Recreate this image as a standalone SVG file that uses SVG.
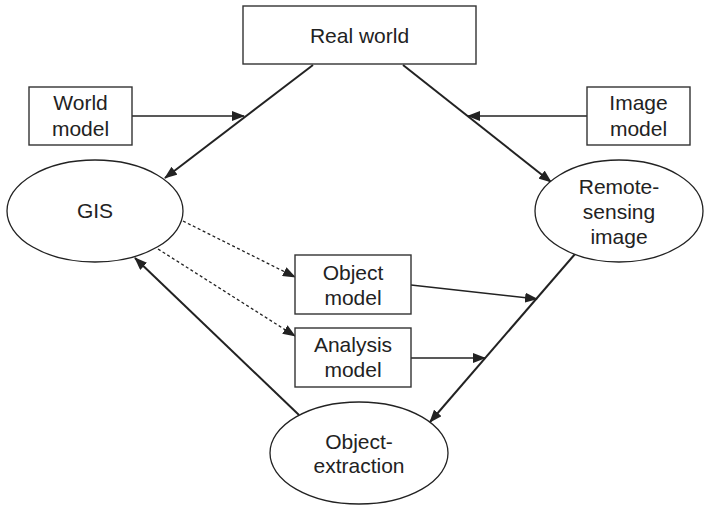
<svg xmlns="http://www.w3.org/2000/svg" width="705" height="506" viewBox="0 0 705 506">
<defs>
<style>
.box{fill:#fff;stroke:#333;stroke-width:1.4}
.ell{fill:#fff;stroke:#222;stroke-width:1.3}
.t{font-family:"Liberation Sans",Arial,sans-serif;font-size:21px;fill:#222;text-anchor:middle}
.main{stroke:#222;stroke-width:2;fill:none}
.thin{stroke:#222;stroke-width:1.4;fill:none}
.dot{stroke:#222;stroke-width:1.3;fill:none;stroke-dasharray:3 2.5}
</style>
<marker id="ah" viewBox="0 0 13 10" refX="12" refY="5" markerWidth="13" markerHeight="10" markerUnits="userSpaceOnUse" orient="auto">
<path d="M0,0 L13,5 L0,10 Z" fill="#222"/>
</marker>
</defs>
<rect width="705" height="506" fill="#fff"/>
<g id="connectors">
<line class="main" x1="313" y1="65" x2="165" y2="178" marker-end="url(#ah)"/>
<line class="main" x1="403" y1="65" x2="551" y2="182" marker-end="url(#ah)"/>
<line class="thin" x1="132" y1="116" x2="244" y2="116" marker-end="url(#ah)"/>
<line class="thin" x1="587" y1="116" x2="468" y2="116" marker-end="url(#ah)"/>
<line class="main" x1="575" y1="254" x2="430" y2="422" marker-end="url(#ah)"/>
<line class="thin" x1="411" y1="285" x2="537" y2="299" marker-end="url(#ah)"/>
<line class="thin" x1="411" y1="358" x2="485" y2="358" marker-end="url(#ah)"/>
<line class="main" x1="299" y1="415" x2="135" y2="258" marker-end="url(#ah)"/>
<line class="dot" x1="183" y1="221" x2="295" y2="277" marker-end="url(#ah)"/>
<line class="dot" x1="158" y1="249" x2="295" y2="336" marker-end="url(#ah)"/>
</g>
<g id="real-world">
<rect class="box" x="243" y="6" width="233" height="58"/>
<text class="t" x="359.5" y="43">Real world</text>
</g>
<g id="world-model">
<rect class="box" x="29" y="87" width="103" height="58"/>
<text class="t" x="80.5" y="110">World</text>
<text class="t" x="80.5" y="136">model</text>
</g>
<g id="image-model">
<rect class="box" x="587" y="87" width="103" height="58"/>
<text class="t" x="638.5" y="110">Image</text>
<text class="t" x="638.5" y="136">model</text>
</g>
<g id="gis">
<ellipse class="ell" cx="95" cy="211" rx="88" ry="51"/>
<text class="t" x="95" y="218">GIS</text>
</g>
<g id="remote-sensing-image">
<ellipse class="ell" cx="619" cy="211" rx="84" ry="51"/>
<text class="t" x="619" y="194">Remote-</text>
<text class="t" x="619" y="219">sensing</text>
<text class="t" x="619" y="244">image</text>
</g>
<g id="object-model">
<rect class="box" x="295" y="255" width="116" height="59"/>
<text class="t" x="353" y="280">Object</text>
<text class="t" x="353" y="305">model</text>
</g>
<g id="analysis-model">
<rect class="box" x="295" y="328" width="116" height="59"/>
<text class="t" x="353" y="352">Analysis</text>
<text class="t" x="353" y="377">model</text>
</g>
<g id="object-extraction">
<ellipse class="ell" cx="359" cy="453" rx="89" ry="51"/>
<text class="t" x="359" y="449">Object-</text>
<text class="t" x="359" y="473">extraction</text>
</g>
</svg>
